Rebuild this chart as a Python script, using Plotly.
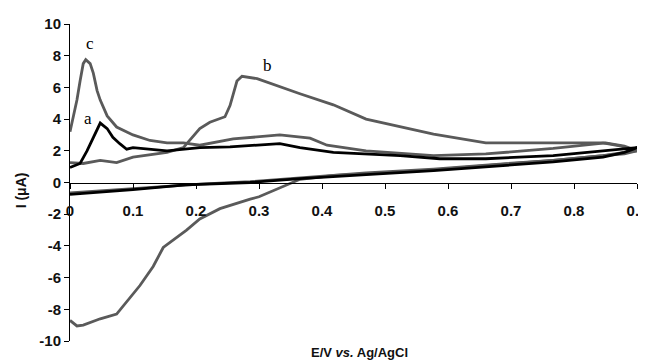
import plotly.graph_objects as go

# Curve a (black)
E_a = [0, 0.016, 0.027, 0.035, 0.048, 0.059, 0.068, 0.079, 0.09, 0.1, 0.127, 0.154, 0.206, 0.254,
       0.333, 0.365, 0.418, 0.47, 0.524, 0.587, 0.66, 0.767, 0.846, 0.9,
       0.88, 0.846, 0.767, 0.66, 0.577, 0.47, 0.365, 0.286, 0.183, 0.1, 0]
I_a = [0.95, 1.2, 2.0, 2.65, 3.75, 3.4, 2.85, 2.45, 2.1, 2.2, 2.1, 2.0, 2.2, 2.25,
       2.45, 2.2, 1.9, 1.8, 1.7, 1.5, 1.5, 1.7, 2.0, 2.2,
       1.9, 1.6, 1.3, 1.0, 0.75, 0.5, 0.25, 0.0, -0.15, -0.45, -0.75]

# Curve b (grey)
E_b = [0, 0.021, 0.048, 0.074, 0.1, 0.154, 0.18, 0.19, 0.206, 0.222, 0.246, 0.254, 0.265, 0.273,
       0.297, 0.365, 0.418, 0.47, 0.524, 0.577, 0.66, 0.767, 0.846, 0.875, 0.9,
       0.88, 0.846, 0.767, 0.66, 0.577, 0.47, 0.42, 0.365, 0.33, 0.3, 0.286, 0.238, 0.206,
       0.185, 0.148, 0.132, 0.111, 0.095, 0.074, 0.048, 0.021, 0.011, 0]
I_b = [1.25, 1.2, 1.4, 1.25, 1.6, 1.9, 2.2, 2.65, 3.4, 3.8, 4.15, 4.85, 6.4, 6.7,
       6.55, 5.6, 4.9, 4.0, 3.5, 3.05, 2.5, 2.5, 2.5, 2.3, 2.0,
       1.9, 1.7, 1.4, 1.05, 0.8, 0.55, 0.45, 0.2, -0.4, -0.9, -1.05, -1.65, -2.3,
       -3.0, -4.1, -5.3, -6.5, -7.3, -8.3, -8.6, -9.0, -9.05, -8.7]

# Curve c (grey)
E_c = [0, 0.011, 0.016, 0.021, 0.025, 0.032, 0.037, 0.043, 0.048, 0.059, 0.074, 0.1, 0.127, 0.154,
       0.18, 0.206, 0.259, 0.333, 0.381, 0.408, 0.47, 0.577, 0.66, 0.767, 0.85, 0.88, 0.9,
       0.88, 0.846, 0.767, 0.66, 0.577, 0.47, 0.365, 0.286, 0.206, 0.1, 0]
I_c = [3.2, 5.2, 6.4, 7.5, 7.75, 7.5, 6.9, 5.8, 5.2, 4.2, 3.5, 3.0, 2.65, 2.5,
       2.5, 2.35, 2.75, 3.0, 2.8, 2.35, 2.0, 1.7, 1.8, 2.15, 2.5, 2.3, 2.0,
       1.8, 1.7, 1.4, 1.1, 0.85, 0.6, 0.3, 0.05, -0.1, -0.4, -0.65]

x_ticks = [0, 0.1, 0.2, 0.3, 0.4, 0.5, 0.6, 0.7, 0.8, 0.9]
x_labels = ["0", "0.1", "0.2", "0.3", "0.4", "0.5", "0.6", "0.7", "0.8", "0.9"]
y_ticks = [-10, -8, -6, -4, -2, 0, 2, 4, 6, 8, 10]
y_labels = ["-10", "-8", "-6", "-4", "-2", "0", "2", "4", "6", "8", "10"]

labels = ["a", "b", "c"]
label_E = [0.029, 0.313, 0.032]
label_I = [4.04, 7.38, 8.77]

GREY = "#5a5a5a"
fig = go.Figure()
fig.add_trace(go.Scatter(x=E_b, y=I_b, mode="lines", line=dict(color=GREY, width=2.8), showlegend=False))
fig.add_trace(go.Scatter(x=E_c, y=I_c, mode="lines", line=dict(color=GREY, width=2.8), showlegend=False))
fig.add_trace(go.Scatter(x=E_a, y=I_a, mode="lines", line=dict(color="#000000", width=2.8), showlegend=False))

for t, xe, yi in zip(labels, label_E, label_I):
    fig.add_annotation(x=xe, y=yi, text=t, showarrow=False,
                       font=dict(family="Liberation Serif", size=17, color="#000", weight="normal"))

fig.add_annotation(xref="paper", yref="paper", x=0.511, y=-0.037, text="E/V <i>vs.</i> Ag/AgCl",
                   showarrow=False, font=dict(family="Liberation Sans", size=13, color="#111", weight="bold"),
                   yanchor="middle", xanchor="center")
fig.add_annotation(xref="paper", yref="paper", x=-0.086, y=0.476, text="I (μA)", textangle=-90,
                   showarrow=False, font=dict(family="Liberation Sans", size=14, color="#111", weight="bold"),
                   yanchor="middle", xanchor="center")

# page body has an 8px margin: figure is 8px smaller and left/top margins shifted accordingly
fig.update_layout(
    width=638, height=354,
    margin=dict(l=62, r=9, t=16, b=21),
    paper_bgcolor="white", plot_bgcolor="white",
    font=dict(family="Liberation Sans", size=15, color="#111", weight="bold"),
    xaxis=dict(range=[0, 0.9], tickvals=x_ticks, ticktext=x_labels, anchor="free", position=0.5,
               showline=True, linecolor="black", linewidth=1, ticks="outside", ticklen=5,
               tickcolor="black", showgrid=False, zeroline=False, ticklabelstandoff=9,
               ticklabeloverflow="allow", automargin=False),
    yaxis=dict(range=[-10, 10], tickvals=y_ticks, ticktext=y_labels, showline=True, linecolor="black",
               linewidth=1, ticks="outside", ticklen=5, tickcolor="black", showgrid=False, zeroline=False,
               ticklabeloverflow="allow", automargin=False),
)
fig.write_html("out.html")
